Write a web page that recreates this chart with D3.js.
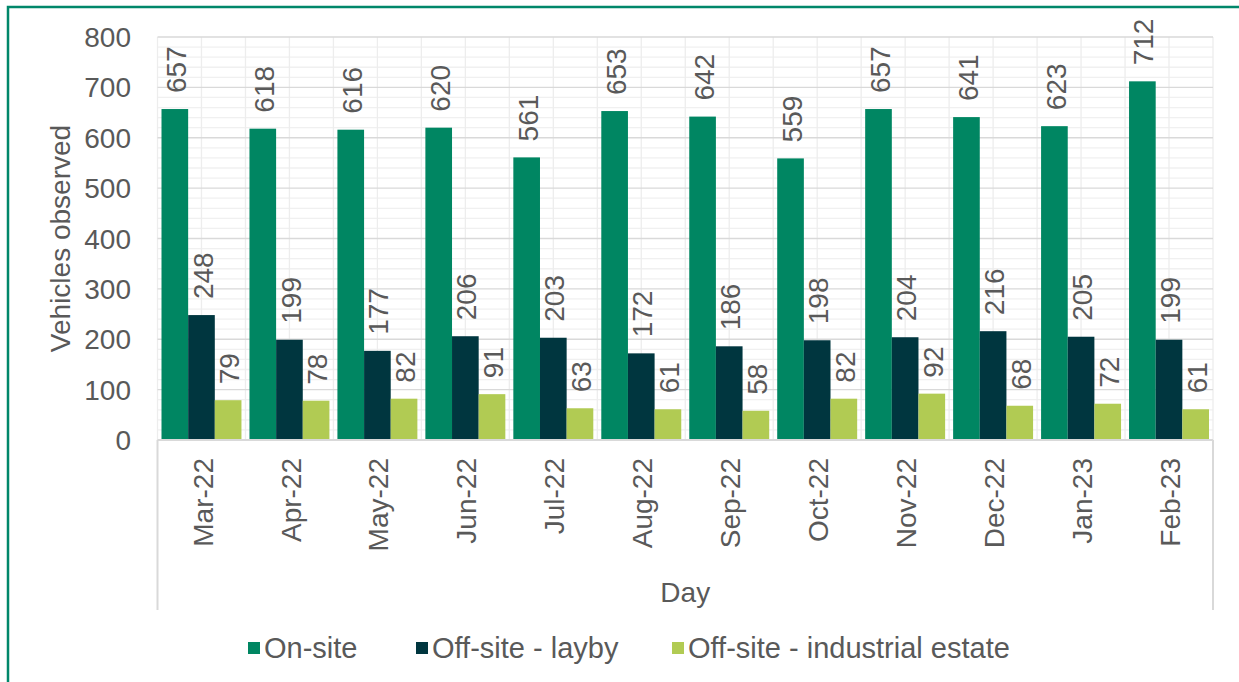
<!DOCTYPE html>
<html>
<head>
<meta charset="utf-8">
<script src="https://cdn.jsdelivr.net/npm/d3@7"></script>
<style>
  body { margin: 0; background: #fff; }
  text { font-family: "Liberation Sans", Arial, sans-serif; fill: #595959; }
</style>
</head>
<body>
<script>
var months = ["Mar-22","Apr-22","May-22","Jun-22","Jul-22","Aug-22","Sep-22","Oct-22","Nov-22","Dec-22","Jan-23","Feb-23"];
var seriesNames = ["On-site", "Off-site - layby", "Off-site - industrial estate"];
var onSite = [657, 618, 616, 620, 561, 653, 642, 559, 657, 641, 623, 712];
var layby = [248, 199, 177, 206, 203, 172, 186, 198, 204, 216, 205, 199];
var industrial = [79, 78, 82, 91, 63, 61, 58, 82, 92, 68, 72, 61];
var yTicks = [0, 100, 200, 300, 400, 500, 600, 700, 800];
var colors = ["#008662", "#00363F", "#B1CB53"];

var allSeries = [onSite, layby, industrial];

var W = 1239, H = 682;
var plotLeft = 157.5, plotRight = 1213, plotTop = 37, plotBottom = 440;

var svg = d3.select("body").append("svg")
  .attr("width", W)
  .attr("height", H);

// outer green frame (right/bottom edges fall outside the picture)
svg.append("rect")
  .attr("x", 8).attr("y", 7)
  .attr("width", W + 20).attr("height", H + 20)
  .attr("fill", "none")
  .attr("stroke", "#00876A")
  .attr("stroke-width", 2.5);

var x0 = d3.scaleBand().domain(months).range([plotLeft, plotRight]);
var x1 = d3.scaleBand().domain([0, 1, 2]).range([4, x0.bandwidth() - 4]);
var y = d3.scaleLinear().domain([0, 800]).range([plotBottom, plotTop]);

var grid = svg.append("g");

// minor horizontal lines every 20
grid.selectAll("line.minor")
  .data(d3.range(0, 801, 20).filter(function (v) { return v % 100 !== 0; }))
  .enter().append("line")
  .attr("x1", plotLeft).attr("x2", plotRight)
  .attr("y1", function (d) { return y(d); })
  .attr("y2", function (d) { return y(d); })
  .attr("stroke", "#f0f0f0").attr("stroke-width", 1.3);

// vertical lines at every half category
grid.selectAll("line.vert")
  .data(d3.range(0, months.length * 2 + 1))
  .enter().append("line")
  .attr("x1", function (d) { return plotLeft + d * x0.step() / 2; })
  .attr("x2", function (d) { return plotLeft + d * x0.step() / 2; })
  .attr("y1", plotTop).attr("y2", plotBottom)
  .attr("stroke", "#ededed").attr("stroke-width", 1.3);

// major horizontal lines
grid.selectAll("line.major")
  .data(yTicks.slice(1))
  .enter().append("line")
  .attr("x1", plotLeft).attr("x2", plotRight)
  .attr("y1", function (d) { return y(d); })
  .attr("y2", function (d) { return y(d); })
  .attr("stroke", "#d9d9d9").attr("stroke-width", 1.3);

// bars
var groups = svg.selectAll("g.month")
  .data(months)
  .enter().append("g")
  .attr("transform", function (d) { return "translate(" + x0(d) + ",0)"; });

groups.selectAll("rect")
  .data(function (d, i) { return allSeries.map(function (s, k) { return { k: k, v: s[i] }; }); })
  .enter().append("rect")
  .attr("x", function (d) { return x1(d.k); })
  .attr("width", x1.bandwidth())
  .attr("y", function (d) { return y(d.v); })
  .attr("height", function (d) { return plotBottom - y(d.v); })
  .attr("fill", function (d) { return colors[d.k]; });

// data labels, rotated
groups.selectAll("text.lab")
  .data(function (d, i) { return allSeries.map(function (s, k) { return { k: k, v: s[i] }; }); })
  .enter().append("text")
  .attr("transform", function (d) {
    return "translate(" + (x1(d.k) + x1.bandwidth() / 2 + 1) + "," + (y(d.v) - 16) + ") rotate(-90)";
  })
  .attr("dy", "0.36em")
  .attr("font-size", 28)
  .text(function (d) { return d.v; });

// axis lines
svg.append("line")
  .attr("x1", plotLeft).attr("x2", plotRight)
  .attr("y1", plotBottom).attr("y2", plotBottom)
  .attr("stroke", "#d9d9d9").attr("stroke-width", 2);
[plotLeft, plotRight].forEach(function (xx) {
  svg.append("line")
    .attr("x1", xx).attr("x2", xx)
    .attr("y1", plotBottom).attr("y2", 610)
    .attr("stroke", "#d9d9d9").attr("stroke-width", 2);
});

// y tick labels
svg.selectAll("text.ytick")
  .data(yTicks)
  .enter().append("text")
  .attr("x", 131)
  .attr("y", function (d) { return y(d); })
  .attr("dy", "0.36em")
  .attr("text-anchor", "end")
  .attr("font-size", 28)
  .text(function (d) { return d; });

// category labels
svg.selectAll("text.xtick")
  .data(months)
  .enter().append("text")
  .attr("transform", function (d) {
    return "translate(" + (x0(d) + x0.bandwidth() / 2 + 1) + ",458) rotate(-90)";
  })
  .attr("dy", "0.36em")
  .attr("text-anchor", "end")
  .attr("font-size", 28)
  .text(function (d) { return d; });

// axis titles
svg.append("text")
  .attr("transform", "translate(60," + ((plotTop + plotBottom) / 2) + ") rotate(-90)")
  .attr("dy", "0.36em")
  .attr("text-anchor", "middle")
  .attr("font-size", 28)
  .text("Vehicles observed");

svg.append("text")
  .attr("x", (plotLeft + plotRight) / 2)
  .attr("y", 602)
  .attr("text-anchor", "middle")
  .attr("font-size", 28)
  .text("Day");

// legend
var legendX = [248, 416, 672];
var legend = svg.selectAll("g.legend")
  .data(seriesNames)
  .enter().append("g")
  .attr("transform", function (d, i) { return "translate(" + legendX[i] + ",648)"; });
legend.append("rect")
  .attr("x", 0).attr("y", -6)
  .attr("width", 12).attr("height", 12)
  .attr("fill", function (d, i) { return colors[i]; });
legend.append("text")
  .attr("x", 16)
  .attr("dy", "0.36em")
  .attr("font-size", 29)
  .text(function (d) { return d; });
</script>
</body>
</html>
